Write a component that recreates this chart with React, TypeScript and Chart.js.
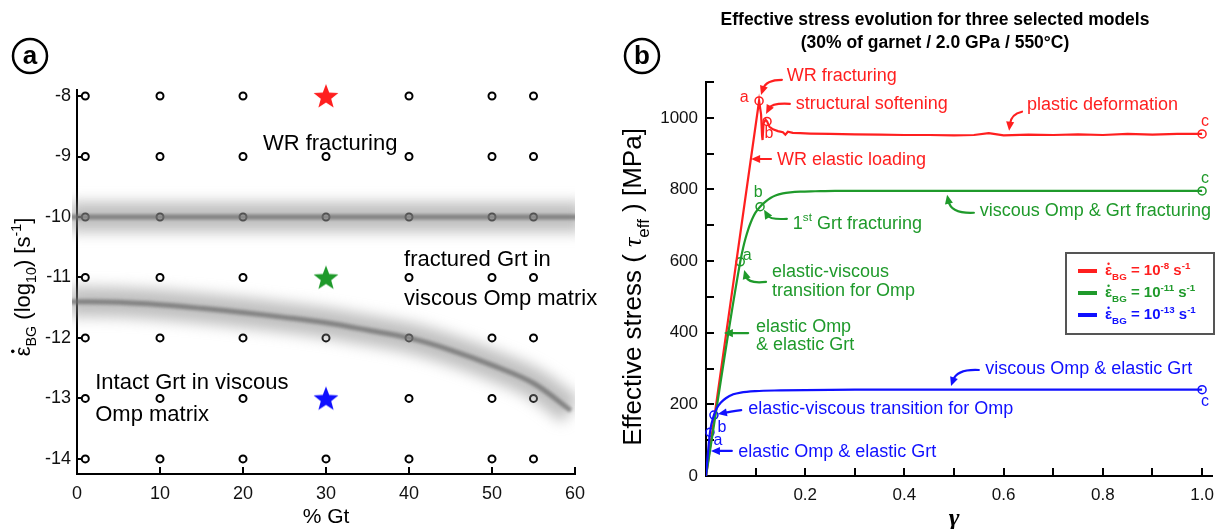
import React, { useEffect, useRef } from 'react';
import { Chart, registerables } from 'chart.js';

Chart.register(...registerables);

// ---------------- Panel (a): model grid ----------------
const gtPercent = [1, 10, 20, 30, 40, 50, 55];
const logStrainRates = [-8, -9, -10, -11, -12, -13, -14];
const gtTicks = [0, 10, 20, 30, 40, 50, 60];
const starGt = [30, 30, 30];
const starRates = [-8, -11, -13];
const flatBoundaryGt = [-1, 61];
const flatBoundaryRate = [-10, -10];
const curvedBoundaryGt = [-1, 0, 5, 10, 15, 20, 25, 30, 35, 40, 45, 50, 55, 59.5];
const curvedBoundaryRate = [-11.4, -11.4, -11.41, -11.45, -11.51, -11.58, -11.66, -11.75, -11.87, -12.0, -12.2, -12.45, -12.75, -13.2];

// ---------------- Panel (b): stress-strain curves ----------------
const redGamma = [0, 0.107, 0.111, 0.113, 0.114, 0.116, 0.12, 0.123, 0.128, 0.135, 0.145, 0.155, 0.16, 0.165, 0.175, 0.19, 0.21, 0.25, 0.3, 0.35, 0.4, 0.45, 0.5, 0.54, 0.57, 0.6, 0.65, 0.7, 0.75, 0.8, 0.85, 0.9, 0.95, 1.0];
const redStress = [0, 1047, 1010, 950, 938, 985, 995, 990, 975, 968, 963, 960, 953, 961, 958, 957, 956, 955, 954, 953, 952, 952, 951, 952, 957, 951, 953, 952, 954, 952, 955, 953, 955, 955];
const greenGamma = [0, 0.069, 0.075, 0.08, 0.085, 0.09, 0.095, 0.1, 0.109, 0.12, 0.13, 0.14, 0.155, 0.17, 0.19, 0.22, 0.26, 0.3, 0.4, 0.5, 0.6, 0.7, 0.8, 0.9, 1.0];
const greenStress = [0, 598, 638, 665, 688, 707, 723, 736, 752, 766, 776, 783, 789, 792, 794, 795, 796, 796, 796, 796, 796, 796, 796, 796, 796];
const blueGamma = [0, 0.008, 0.016, 0.022, 0.03, 0.04, 0.055, 0.07, 0.1, 0.15, 0.2, 0.3, 0.5, 0.7, 1.0];
const blueStress = [0, 122, 170, 190, 205, 217, 228, 233, 237, 239, 240, 241, 241, 241, 241];
const redMarkGamma = [0.107, 0.123, 1.0];
const redMarkStress = [1047, 990, 955];
const greenMarkGamma = [0.069, 0.109, 1.0];
const greenMarkStress = [598, 752, 796];
const blueMarkGamma = [0.008, 0.016, 1.0];
const blueMarkStress = [122, 170, 241];
const gammaTicks = [0, 0.1, 0.2, 0.3, 0.4, 0.5, 0.6, 0.7, 0.8, 0.9, 1.0];
const gammaLabelled = [0.2, 0.4, 0.6, 0.8, 1.0];
const stressTicks = [0, 100, 200, 300, 400, 500, 600, 700, 800, 900, 1000, 1100];
const stressLabelled = [0, 200, 400, 600, 800, 1000];
const legendExponents = ['-8', '-11', '-13'];

const FONT = "'Liberation Sans', Arial, Helvetica, sans-serif";
const SERIF = "'Liberation Serif', 'Times New Roman', serif";
const RED = '#ff1f1f';
const GREEN = '#1f9a2b';
const BLUE = '#1010ff';

const zip = (xs: number[], ys: number[]) => xs.map((x, i) => ({ x, y: ys[i] }));

type Seg = { t: string; kind?: 'sub' | 'sup' | 'dot'; serifItalic?: boolean };

function drawRich(ctx: CanvasRenderingContext2D, segs: Seg[], x: number, y: number, size: number, color: string, align: 'left' | 'center' = 'left', bold = false) {
  const weight = bold ? 'bold ' : '';
  const fontFor = (s: Seg) => {
    const sz = s.kind === 'sub' || s.kind === 'sup' ? size * 0.65 : size;
    if (s.serifItalic) return `italic ${weight}${sz}px ${SERIF}`;
    return `${weight}${sz}px ${FONT}`;
  };
  let total = 0;
  const widths = segs.map((s) => {
    ctx.font = fontFor(s);
    const w = ctx.measureText(s.t).width;
    total += w;
    return w;
  });
  let cx = align === 'center' ? x - total / 2 : x;
  const base = y + size * 0.36;
  ctx.fillStyle = color;
  ctx.textAlign = 'left';
  ctx.textBaseline = 'alphabetic';
  segs.forEach((s, i) => {
    ctx.font = fontFor(s);
    let by = base;
    if (s.kind === 'sub') by = base + size * 0.28;
    if (s.kind === 'sup') by = base - size * 0.42;
    ctx.fillText(s.t, cx, by);
    if (s.kind === 'dot') {
      ctx.beginPath();
      ctx.arc(cx + widths[i] * 0.5, base - size * 0.78, size * 0.08, 0, Math.PI * 2);
      ctx.fill();
    }
    cx += widths[i];
  });
}

function drawArrow(ctx: CanvasRenderingContext2D, x0: number, y0: number, cx: number, cy: number, x1: number, y1: number, color: string) {
  const head = 9;
  ctx.save();
  ctx.strokeStyle = color;
  ctx.fillStyle = color;
  ctx.lineWidth = 2.2;
  ctx.lineCap = 'round';
  const ang = Math.atan2(y1 - cy, x1 - cx);
  const ex = x1 - Math.cos(ang) * head * 0.7;
  const ey = y1 - Math.sin(ang) * head * 0.7;
  ctx.beginPath();
  ctx.moveTo(x0, y0);
  ctx.quadraticCurveTo(cx, cy, ex, ey);
  ctx.stroke();
  const c = Math.cos(ang), s = Math.sin(ang);
  ctx.beginPath();
  ctx.moveTo(x1, y1);
  ctx.lineTo(x1 - head * c + head * 0.45 * s, y1 - head * s - head * 0.45 * c);
  ctx.lineTo(x1 - head * c - head * 0.45 * s, y1 - head * s + head * 0.45 * c);
  ctx.closePath();
  ctx.fill();
  ctx.restore();
}

function drawPanelLabel(ctx: CanvasRenderingContext2D, cx: number, cy: number, letter: string) {
  ctx.save();
  ctx.lineWidth = 2.5;
  ctx.strokeStyle = '#000';
  ctx.beginPath();
  ctx.arc(cx, cy, 17, 0, Math.PI * 2);
  ctx.stroke();
  ctx.fillStyle = '#000';
  ctx.font = `bold 26px ${FONT}`;
  ctx.textAlign = 'center';
  ctx.textBaseline = 'middle';
  ctx.fillText(letter, cx, cy + 1);
  ctx.restore();
}

function inwardTicks(chart: any, len: number) {
  const { ctx, chartArea: a, scales } = chart;
  const x = scales.x, y = scales.y;
  ctx.save();
  ctx.strokeStyle = '#000';
  ctx.lineWidth = 2;
  ctx.beginPath();
  x.ticks.forEach((t: any) => {
    const p = Math.round(x.getPixelForValue(t.value));
    ctx.moveTo(p, a.bottom);
    ctx.lineTo(p, a.bottom - len);
  });
  y.ticks.forEach((t: any) => {
    const p = Math.round(y.getPixelForValue(t.value));
    ctx.moveTo(a.left, p);
    ctx.lineTo(a.left + len, p);
  });
  ctx.stroke();
  ctx.restore();
}

const blurPlugin = {
  id: 'blurBands',
  beforeDatasetDraw(chart: any, args: any) {
    const ds = chart.data.datasets[args.index];
    if (ds.blurPx) {
      chart.ctx.save();
      chart.ctx.filter = `blur(${ds.blurPx}px)`;
    }
  },
  afterDatasetDraw(chart: any, args: any) {
    const ds = chart.data.datasets[args.index];
    if (ds.blurPx) chart.ctx.restore();
  },
};

function makeStar(color: string, r: number) {
  const c = document.createElement('canvas');
  const s = Math.ceil(r * 2 + 2);
  c.width = s;
  c.height = s;
  const g = c.getContext('2d')!;
  g.beginPath();
  for (let i = 0; i < 10; i++) {
    const ang = -Math.PI / 2 + (i * Math.PI) / 5;
    const rr = i % 2 === 0 ? r : r * 0.42;
    g.lineTo(s / 2 + rr * Math.cos(ang), s / 2 + rr * Math.sin(ang) + 1);
  }
  g.closePath();
  g.fillStyle = color;
  g.fill();
  return c;
}

function axisBase(fontSize: number) {
  return {
    type: 'linear' as const,
    grid: { display: false, drawTicks: false },
    border: { display: true, color: '#000', width: 2 },
    ticks: { autoSkip: false, maxRotation: 0, color: '#111', font: { family: FONT, size: fontSize } },
  };
}

function leftConfig(): any {
  const circles: { x: number; y: number }[] = [];
  logStrainRates.forEach((r) =>
    gtPercent.forEach((g) => {
      const isStar = starGt.some((sg, i) => sg === g && starRates[i] === r);
      if (!isStar) circles.push({ x: g, y: r });
    })
  );
  const stars = [makeStar(RED, 13), makeStar(GREEN, 13), makeStar(BLUE, 13)];
  const bandClip = { left: 5, right: 0, top: 0, bottom: 0 };
  const decor = {
    id: 'leftDecor',
    beforeDatasetsDraw(chart: any) {
      inwardTicks(chart, 7);
    },
    afterDraw(chart: any) {
      const { ctx, scales } = chart;
      const px = (v: number) => scales.x.getPixelForValue(v);
      const py = (v: number) => scales.y.getPixelForValue(v);
      ctx.save();
      drawRich(ctx, [{ t: 'WR fracturing' }], px(30.5), py(-8.76), 22, '#000', 'center');
      drawRich(ctx, [{ t: 'fractured Grt in' }], px(39.4), py(-10.68), 22, '#000');
      drawRich(ctx, [{ t: 'viscous Omp matrix' }], px(39.4), py(-11.32), 22, '#000');
      drawRich(ctx, [{ t: 'Intact Grt in viscous' }], px(2.2), py(-12.71), 22, '#000');
      drawRich(ctx, [{ t: 'Omp matrix' }], px(2.2), py(-13.24), 22, '#000');
      drawRich(ctx, [{ t: '% Gt' }], px(30), 515, 21, '#000', 'center');
      ctx.save();
      ctx.translate(22, 287);
      ctx.rotate(-Math.PI / 2);
      drawRich(
        ctx,
        [{ t: 'ε', kind: 'dot' }, { t: 'BG', kind: 'sub' }, { t: ' (log' }, { t: '10', kind: 'sub' }, { t: ') [s' }, { t: '-1', kind: 'sup' }, { t: ']' }],
        0, 0, 22, '#000', 'center'
      );
      ctx.restore();
      drawPanelLabel(ctx, 30, 56, 'a');
      ctx.restore();
    },
  };
  return {
    type: 'scatter',
    data: {
      datasets: [
        { data: circles, pointRadius: 3.5, pointBorderWidth: 2, pointBorderColor: '#000', pointBackgroundColor: '#fff', order: 3 },
        { data: zip(flatBoundaryGt, flatBoundaryRate), showLine: true, pointRadius: 0, borderColor: 'rgba(140,140,140,0.55)', borderWidth: 30, blurPx: 7, clip: bandClip, order: 2 },
        { data: zip(flatBoundaryGt, flatBoundaryRate), showLine: true, pointRadius: 0, borderColor: 'rgba(110,110,110,0.75)', borderWidth: 5, blurPx: 1.5, clip: bandClip, order: 1 },
        { data: zip(curvedBoundaryGt, curvedBoundaryRate), showLine: true, tension: 0.35, pointRadius: 0, borderColor: 'rgba(140,140,140,0.55)', borderWidth: 30, blurPx: 7, clip: bandClip, order: 2 },
        { data: zip(curvedBoundaryGt, curvedBoundaryRate), showLine: true, tension: 0.35, pointRadius: 0, borderColor: 'rgba(110,110,110,0.75)', borderWidth: 5, blurPx: 1.5, clip: bandClip, order: 1 },
        { data: zip(starGt, starRates), pointStyle: stars, pointRadius: 13, clip: false, order: 0 },
      ],
    },
    options: {
      responsive: false,
      animation: false,
      events: [],
      layout: { padding: { left: 17, right: 37, top: 90, bottom: 15 } },
      plugins: { legend: { display: false }, tooltip: { enabled: false } },
      scales: {
        x: {
          ...axisBase(18),
          min: 0,
          max: 60,
          afterBuildTicks: (s: any) => { s.ticks = gtTicks.map((v) => ({ value: v })); },
          afterFit: (s: any) => { s.height = 40; },
          ticks: { ...axisBase(18).ticks, padding: 9, callback: (v: any) => String(v) },
        },
        y: {
          ...axisBase(18),
          min: -14.25,
          max: -7.9,
          afterBuildTicks: (s: any) => { s.ticks = logStrainRates.map((v) => ({ value: v })); },
          afterFit: (s: any) => { s.width = 60; },
          ticks: { ...axisBase(18).ticks, padding: 6, callback: (v: any) => String(v) },
        },
      },
    },
    plugins: [blurPlugin, decor],
  };
}

type Note = { lines: Seg[][]; x: number; y: number; color: string; gap?: number; align?: 'left' | 'center'; size?: number };
type Arrow = { from: [number, number]; via: [number, number]; to: [number, number]; color: string };

const letter = (t: string, x: number, y: number, color: string): Note => ({ lines: [[{ t }]], x, y, color, align: 'center', size: 16 });

const rightNotes: Note[] = [
  { lines: [[{ t: 'WR fracturing' }]], x: 0.163, y: 1120, color: RED },
  { lines: [[{ t: 'structural softening' }]], x: 0.181, y: 1042, color: RED },
  { lines: [[{ t: 'WR elastic loading' }]], x: 0.143, y: 885, color: RED },
  { lines: [[{ t: 'plastic deformation' }]], x: 0.647, y: 1039, color: RED },
  letter('a', 0.077, 1059, RED),
  letter('b', 0.127, 960, RED),
  letter('c', 1.006, 992, RED),
  { lines: [[{ t: '1' }, { t: 'st', kind: 'sup' }, { t: ' Grt fracturing' }]], x: 0.175, y: 709, color: GREEN },
  { lines: [[{ t: 'elastic-viscous' }], [{ t: 'transition for Omp' }]], x: 0.133, y: 575, color: GREEN, gap: 19 },
  { lines: [[{ t: 'elastic Omp' }], [{ t: '& elastic Grt' }]], x: 0.101, y: 419, color: GREEN, gap: 18 },
  { lines: [[{ t: 'viscous Omp & Grt fracturing' }]], x: 0.552, y: 743, color: GREEN },
  letter('a', 0.083, 620, GREEN),
  letter('b', 0.105, 796, GREEN),
  letter('c', 1.006, 835, GREEN),
  { lines: [[{ t: 'viscous Omp & elastic Grt' }]], x: 0.563, y: 304, color: BLUE },
  { lines: [[{ t: 'elastic-viscous transition for Omp' }]], x: 0.085, y: 190, color: BLUE },
  { lines: [[{ t: 'elastic Omp & elastic Grt' }]], x: 0.065, y: 70, color: BLUE },
  letter('a', 0.024, 103, BLUE),
  letter('b', 0.032, 140, BLUE),
  letter('c', 1.006, 212, BLUE),
];

const rightArrows: Arrow[] = [
  { from: [0.153, 1106], via: [0.121, 1106], to: [0.111, 1064], color: RED },
  { from: [0.169, 1039], via: [0.133, 1042], to: [0.121, 1011], color: RED },
  { from: [0.131, 885], via: [0.111, 885], to: [0.091, 885], color: RED },
  { from: [0.637, 1017], via: [0.615, 1011], to: [0.611, 964], color: RED },
  { from: [0.163, 718], via: [0.129, 715], to: [0.117, 743], color: GREEN },
  { from: [0.121, 542], via: [0.085, 536], to: [0.077, 575], color: GREEN },
  { from: [0.085, 399], via: [0.06, 399], to: [0.036, 399], color: GREEN },
  { from: [0.54, 735], via: [0.494, 732], to: [0.486, 785], color: GREEN },
  { from: [0.55, 296], via: [0.506, 299], to: [0.494, 251], color: BLUE },
  { from: [0.071, 184], via: [0.047, 179], to: [0.024, 173], color: BLUE },
  { from: [0.052, 70], via: [0.031, 70], to: [0.01, 70], color: BLUE },
];

function rightConfig(): any {
  const near = (v: number, list: number[]) => list.some((l) => Math.abs(l - v) < 1e-6);
  const decor = {
    id: 'rightDecor',
    beforeDatasetsDraw(chart: any) {
      inwardTicks(chart, 8);
    },
    afterDraw(chart: any) {
      const { ctx, scales } = chart;
      const px = (v: number) => scales.x.getPixelForValue(v);
      const py = (v: number) => scales.y.getPixelForValue(v);
      ctx.save();
      drawRich(ctx, [{ t: 'Effective stress evolution for three selected models' }], 323, 19, 17.5, '#000', 'center', true);
      drawRich(ctx, [{ t: '(30% of garnet / 2.0 GPa / 550°C)' }], 323, 42, 17.5, '#000', 'center', true);
      rightArrows.forEach((a) => drawArrow(ctx, px(a.from[0]), py(a.from[1]), px(a.via[0]), py(a.via[1]), px(a.to[0]), py(a.to[1]), a.color));
      rightNotes.forEach((n) =>
        n.lines.forEach((segs, i) => drawRich(ctx, segs, px(n.x), py(n.y) + i * (n.gap || 0), n.size || 18, n.color, n.align || 'left'))
      );
      // axis titles
      ctx.save();
      ctx.translate(20, 287);
      ctx.rotate(-Math.PI / 2);
      drawRich(ctx, [{ t: 'Effective stress ( ' }, { t: 'τ', serifItalic: true }, { t: 'eff', kind: 'sub' }, { t: ' ) [MPa]' }], 0, 0, 26, '#000', 'center');
      ctx.restore();
      drawRich(ctx, [{ t: 'γ', serifItalic: true }], px(0.5), 517, 26, '#000', 'center', true);
      // legend
      const lx = 454, ly = 253, lw = 148, lh = 81;
      ctx.fillStyle = '#fff';
      ctx.fillRect(lx, ly, lw, lh);
      ctx.strokeStyle = '#555';
      ctx.lineWidth = 2;
      ctx.strokeRect(lx, ly, lw, lh);
      [RED, GREEN, BLUE].forEach((col, i) => {
        const yy = ly + 18 + i * 22;
        ctx.strokeStyle = col;
        ctx.lineWidth = 4;
        ctx.beginPath();
        ctx.moveTo(lx + 12, yy);
        ctx.lineTo(lx + 31, yy);
        ctx.stroke();
        drawRich(
          ctx,
          [{ t: 'ε', kind: 'dot' }, { t: 'BG', kind: 'sub' }, { t: ' = 10' }, { t: legendExponents[i], kind: 'sup' }, { t: ' s' }, { t: '-1', kind: 'sup' }],
          lx + 39, yy - 1, 15, col, 'left', true
        );
      });
      drawPanelLabel(ctx, 30, 56, 'b');
      ctx.restore();
    },
  };
  const line = (xs: number[], ys: number[], color: string, mono: boolean) => ({
    data: zip(xs, ys), showLine: true, pointRadius: 0, borderColor: color, borderWidth: 2.2,
    cubicInterpolationMode: mono ? 'monotone' : 'default', tension: 0,
  });
  const marks = (xs: number[], ys: number[], color: string) => ({
    data: zip(xs, ys), pointRadius: 4, pointBorderWidth: 1.5, pointBorderColor: color, pointBackgroundColor: 'rgba(0,0,0,0)', clip: false,
  });
  return {
    type: 'scatter',
    data: {
      datasets: [
        line(blueGamma, blueStress, BLUE, true),
        line(greenGamma, greenStress, GREEN, true),
        line(redGamma, redStress, RED, false),
        marks(blueMarkGamma, blueMarkStress, BLUE),
        marks(greenMarkGamma, greenMarkStress, GREEN),
        marks(redMarkGamma, redMarkStress, RED),
      ],
    },
    options: {
      responsive: false,
      animation: false,
      events: [],
      layout: { padding: { left: 34, right: 13, top: 82, bottom: 13 } },
      plugins: { legend: { display: false }, tooltip: { enabled: false } },
      scales: {
        x: {
          ...axisBase(17),
          min: 0,
          max: 1.02,
          afterBuildTicks: (s: any) => { s.ticks = gammaTicks.map((v) => ({ value: v })); },
          afterFit: (s: any) => { s.height = 40; },
          ticks: { ...axisBase(17).ticks, padding: 9, callback: (v: any) => (near(v, gammaLabelled) ? Number(v).toFixed(1) : '') },
        },
        y: {
          ...axisBase(17),
          min: 0,
          max: 1100,
          afterBuildTicks: (s: any) => { s.ticks = stressTicks.map((v) => ({ value: v })); },
          afterFit: (s: any) => { s.width = 60; },
          ticks: { ...axisBase(17).ticks, padding: 8, callback: (v: any) => (near(v, stressLabelled) ? String(v) : '') },
        },
      },
    },
    plugins: [decor],
  };
}

export default function App() {
  const leftRef = useRef<HTMLCanvasElement>(null);
  const rightRef = useRef<HTMLCanvasElement>(null);
  useEffect(() => {
    const c1 = new Chart(leftRef.current!, leftConfig());
    const c2 = new Chart(rightRef.current!, rightConfig());
    return () => {
      c1.destroy();
      c2.destroy();
    };
  }, []);
  return (
    <div style={{ position: 'fixed', left: 0, top: 0, width: 1225, height: 529, background: '#fff' }}>
      <canvas ref={leftRef} width={612} height={529} style={{ position: 'absolute', left: 0, top: 0, width: 612, height: 529 }} />
      <canvas ref={rightRef} width={613} height={529} style={{ position: 'absolute', left: 612, top: 0, width: 613, height: 529 }} />
    </div>
  );
}
